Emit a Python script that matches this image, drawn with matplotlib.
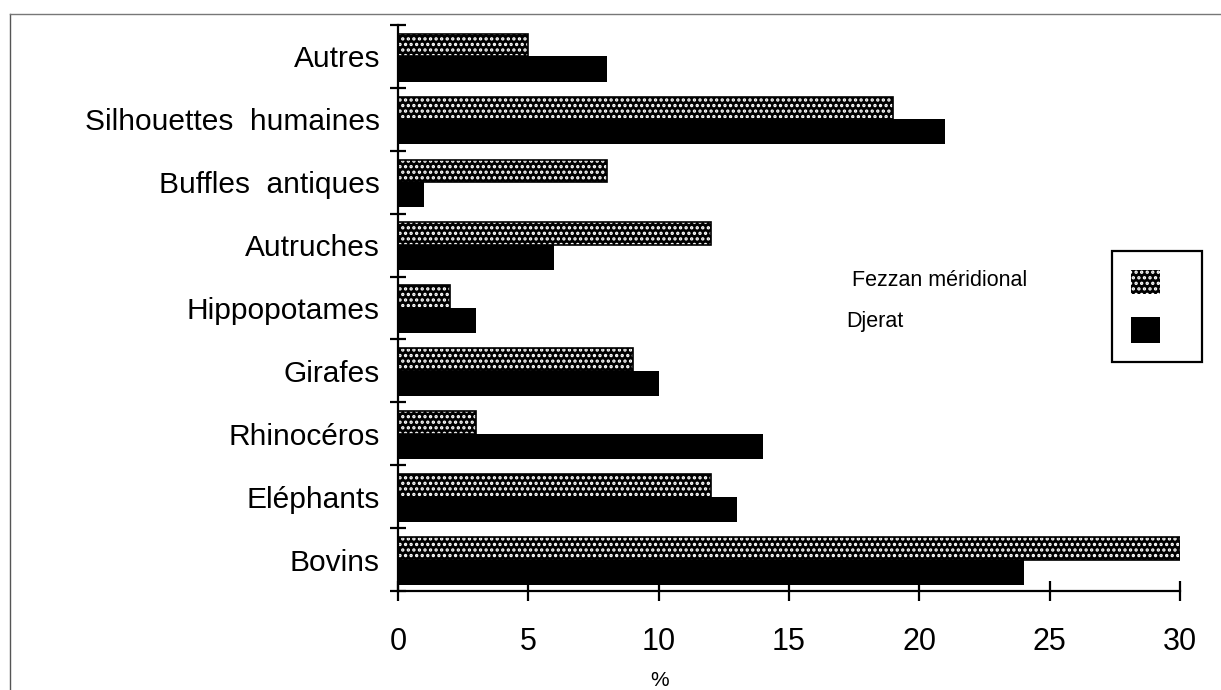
import matplotlib
matplotlib.use('Agg')
import matplotlib.pyplot as plt
from matplotlib.patches import Rectangle

plt.rcParams['font.family'] = ['Liberation Sans', 'DejaVu Sans']
plt.rcParams['hatch.linewidth'] = 1.6

# categories, top to bottom as in the figure
categories = ['Autres', 'Silhouettes  humaines', 'Buffles  antiques', 'Autruches',
              'Hippopotames', 'Girafes', 'Rhinocéros', 'Eléphants', 'Bovins']
fezzan = [5, 19, 8, 12, 2, 9, 3, 12, 30]
djerat = [8, 21, 1, 6, 3, 10, 14, 13, 24]
xticks = [0, 5, 10, 15, 20, 25, 30]
series_names = ['Fezzan méridional', 'Djerat']

# bottom-up order for plotting
cats = categories[::-1]
fz = fezzan[::-1]
dj = djerat[::-1]
ypos = list(range(len(cats)))

fig = plt.figure(figsize=(12.21, 6.9), dpi=100)
ax = fig.add_axes([0.326, 0.1435, 0.6404, 0.8203])

# Fezzan: black with white dots, Djerat: solid black
ax.barh(ypos, fz, height=0.36, align='edge', color='black', edgecolor='white',
        hatch='...', linewidth=0)
ax.barh(ypos, fz, height=0.36, align='edge', fill=False, edgecolor='black', linewidth=1.2)
ax.barh(ypos, dj, height=-0.40, align='edge', color='black', linewidth=0)

ax.set_xlim(0, 30)
ax.set_ylim(-0.5, len(cats) - 0.5)
ax.spines['top'].set_visible(False)
ax.spines['right'].set_visible(False)
ax.spines['left'].set_linewidth(1.6)
ax.spines['bottom'].set_linewidth(1.6)

ax.set_yticks(ypos)
ax.set_yticklabels(cats, fontsize=21.5)
ax.set_yticks([y - 0.5 for y in ypos] + [len(cats) - 0.5], minor=True)
ax.tick_params(axis='y', which='major', length=0, pad=13)
ax.tick_params(axis='y', which='minor', direction='inout', length=12, width=1.6)

ax.set_xticks(xticks)
ax.set_xticklabels([str(t) for t in xticks], fontsize=22)
ax.tick_params(axis='x', which='major', direction='inout', length=14, width=1.6, pad=19)

fig.text(660 / 1221, 1 - 680 / 690, '%', fontsize=15, ha='center', va='center')

# legend drawn as in the original: labels left, swatches in a box
W, H = 1221, 690
def fr(x, y, w, h):
    return (x / W, 1 - (y + h) / H), w / W, h / H

xy, w, h = fr(1112, 251, 90, 111)
fig.patches.append(Rectangle(xy, w, h, transform=fig.transFigure, fill=False,
                             edgecolor='black', linewidth=1.6))
xy, w, h = fr(1131, 270, 29, 24)
fig.patches.append(Rectangle(xy, w, h, transform=fig.transFigure, facecolor='black',
                             edgecolor='white', hatch='...', linewidth=0))
xy, w, h = fr(1131, 317, 29, 26)
fig.patches.append(Rectangle(xy, w, h, transform=fig.transFigure, facecolor='black',
                             linewidth=0))
fig.text(852 / W, 1 - 280 / H, series_names[0], fontsize=15.5, ha='left', va='center')
fig.text(846 / W, 1 - 322 / H, series_names[1], fontsize=15.5, ha='left', va='center')

# scanned page frame
fig.add_artist(plt.Line2D([10 / W, 10 / W], [0, 1 - 14 / H], transform=fig.transFigure,
                          color='#555555', linewidth=1))
fig.add_artist(plt.Line2D([10 / W, 1], [1 - 14 / H, 1 - 14 / H], transform=fig.transFigure,
                          color='#777777', linewidth=1))

fig.savefig('out.png', dpi=100)
